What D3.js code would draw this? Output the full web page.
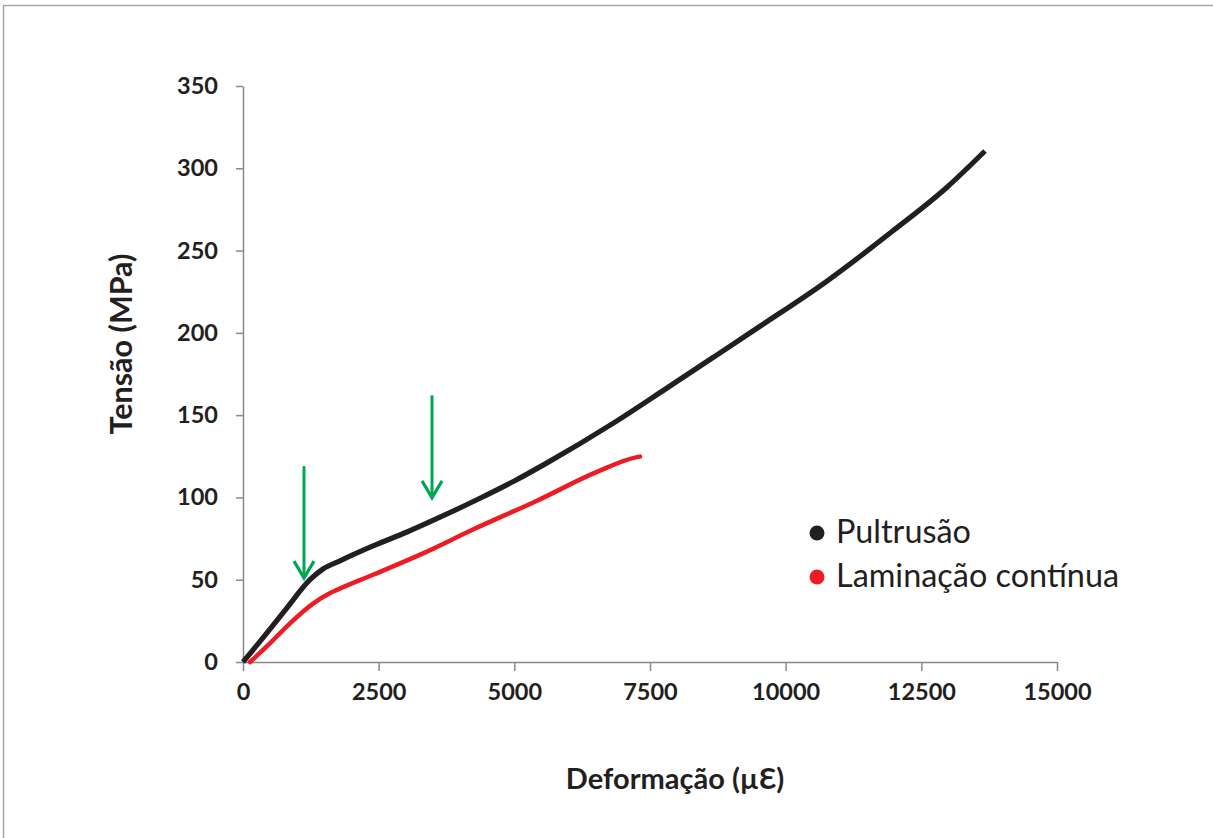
<!DOCTYPE html>
<html>
<head>
<meta charset="utf-8">
<script src="https://cdn.jsdelivr.net/npm/d3@7"></script>
<style>
  html, body { margin: 0; padding: 0; background: #fff; }
  svg { display: block; }
</style>
</head>
<body>
<svg id="chart" width="1213" height="838"></svg>
<script>
// ---- data ----
const xTicks = [0, 2500, 5000, 7500, 10000, 12500, 15000];
const yTicks = [0, 50, 100, 150, 200, 250, 300, 350];

const seriesNames = ["Pultrusão", "Laminação contínua"];

// Pultrusão: strain (µƐ), stress (MPa)
const pultrusaoStrain = [0, 400, 800, 1235, 1474, 1788, 2396, 3022, 3630, 4367, 5000, 5602, 6818, 7813, 8661, 9527, 10762, 11978, 12973, 13673];
const pultrusaoStress = [0, 16, 32.5, 50, 56.5, 61.5, 70.5, 79, 88, 99.5, 110, 121, 145, 166.5, 185, 204, 231.5, 262, 288.5, 310.5];

// Laminação contínua
const laminacaoStrain = [130, 500, 866, 1290, 1600, 1732, 2396, 3317, 4238, 5418, 6523, 7261, 7316];
const laminacaoStress = [0, 11.5, 23.5, 35.5, 41.8, 43.8, 53, 66, 80.5, 98, 115.5, 124.5, 124.8];

// Green arrows (strain, stress at top, stress at tip)
const arrowStrain = [1124, 3483];
const arrowTop = [119, 162];
const arrowTip = [51, 99.7];

// ---- drawing ----
const svg = d3.select("#chart");
const W = 1213, H = 838;
const x = d3.scaleLinear().domain([0, 15000]).range([243, 1057]);
const y = d3.scaleLinear().domain([0, 350]).range([662, 86]);

// outer frame
svg.append("rect")
  .attr("x", 3.5).attr("y", 5.5)
  .attr("width", W + 10).attr("height", H + 10)
  .attr("fill", "none").attr("stroke", "#a6a6a6").attr("stroke-width", 1.5);

const fontFam = "Lato, 'Open Sans', 'Noto Sans', sans-serif";
const axisColor = "#898989";

// axes
const gx = svg.append("g")
  .attr("transform", `translate(0,${y(0)})`)
  .call(d3.axisBottom(x).tickValues(xTicks).tickFormat(d3.format("d"))
    .tickSize(9).tickSizeOuter(0).tickPadding(12));
const gy = svg.append("g")
  .attr("transform", `translate(${x(0)},0)`)
  .call(d3.axisLeft(y).tickValues(yTicks).tickFormat(d3.format("d"))
    .tickSize(7).tickSizeOuter(0).tickPadding(18));

[gx, gy].forEach(g => {
  g.select(".domain").attr("stroke", axisColor).attr("stroke-width", 1.5);
  g.selectAll(".tick line").attr("stroke", axisColor).attr("stroke-width", 1.5);
  g.selectAll(".tick text")
    .attr("fill", "#231f20")
    .style("font-family", fontFam)
    .style("font-weight", "bold")
    .style("font-size", "23.5px");
});

// series
const line = d3.line().x(d => x(d[0])).y(d => y(d[1])).curve(d3.curveMonotoneX);
const pultrusao = pultrusaoStrain.map((s, i) => [s, pultrusaoStress[i]]);
const laminacao = laminacaoStrain.map((s, i) => [s, laminacaoStress[i]]);

svg.append("path").datum(laminacao)
  .attr("d", line).attr("fill", "none")
  .attr("stroke", "#ed1c24").attr("stroke-width", 4.5)
  .attr("stroke-linecap", "round").attr("stroke-linejoin", "round");

svg.append("path").datum(pultrusao)
  .attr("d", line).attr("fill", "none")
  .attr("stroke", "#231f20").attr("stroke-width", 5.2)
  .attr("stroke-linecap", "butt").attr("stroke-linejoin", "round");

// arrows
const green = "#00a651";
arrowStrain.forEach((s, i) => {
  const ax = x(s), yt = y(arrowTop[i]), yp = y(arrowTip[i]);
  svg.append("line")
    .attr("x1", ax).attr("x2", ax).attr("y1", yt).attr("y2", yp - 1)
    .attr("stroke", green).attr("stroke-width", 3);
  svg.append("path")
    .attr("d", `M${ax - 10},${yp - 17} L${ax},${yp} L${ax + 10},${yp - 17}`)
    .attr("fill", "none").attr("stroke", green).attr("stroke-width", 3.2)
    .attr("stroke-linejoin", "miter");
});

// legend
const legendColors = ["#231f20", "#ed1c24"];
const lg = svg.append("g");
seriesNames.forEach((name, i) => {
  const cy = 533 + i * 44;
  lg.append("circle").attr("cx", 817).attr("cy", cy).attr("r", 7.5).attr("fill", legendColors[i]);
  lg.append("text").attr("x", 836).attr("y", cy + 10)
    .attr("fill", "#231f20")
    .style("font-family", fontFam)
    .style("font-size", "32.4px")
    .text(name);
});

// axis titles
svg.append("text")
  .attr("x", 675).attr("y", 789)
  .attr("text-anchor", "middle")
  .attr("fill", "#231f20")
  .style("font-family", fontFam).style("font-weight", "bold").style("font-size", "29px")
  .text("Deformação (µƐ)");

svg.append("text")
  .attr("transform", `translate(132,344) rotate(-90)`)
  .attr("text-anchor", "middle")
  .attr("fill", "#231f20")
  .style("font-family", fontFam).style("font-weight", "bold").style("font-size", "30.5px")
  .text("Tensão (MPa)");
</script>
</body>
</html>
